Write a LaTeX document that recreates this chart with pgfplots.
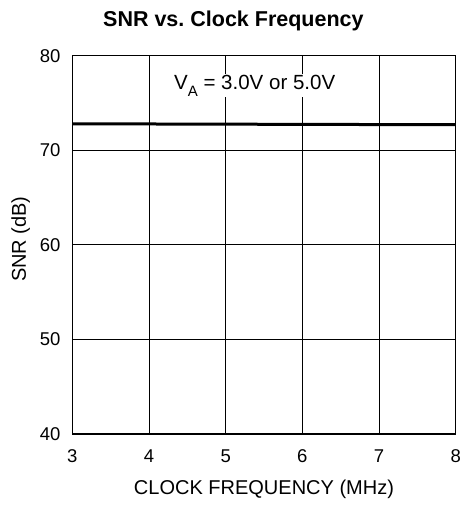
\documentclass[border=0pt]{standalone}
\usepackage{fontspec}
\setmainfont{Liberation Sans}
\usepackage{pgfplots}
\pgfplotsset{compat=1.18}
\frenchspacing
\begin{document}
\begin{tikzpicture}[x=1pt,y=1pt]
\path[use as bounding box] (-72.3,-74) rectangle (393.7,434);
\begin{axis}[
  at={(0,0)}, anchor=south west,
  scale only axis, width=383.4pt, height=378.3pt,
  xmin=3, xmax=8, ymin=40, ymax=80,
  xtick={3,4,5,6,7,8}, ytick={40,50,60,70,80},
  grid=major, major grid style={black, line width=0.9pt},
  axis line style={black, line width=1.1pt},
  tick style={draw=none},
  /pgf/number format/assume math mode=true,
  ticklabel style={font=\fontsize{18.5}{22}\selectfont, inner sep=0pt},
  xticklabel style={anchor=base, yshift=-28.3pt},
  yticklabel style={anchor=east, xshift=-11.6pt},
  xlabel={CLOCK FREQUENCY (MHz)},
  ylabel={SNR (dB)},
  label style={font=\fontsize{20}{24}\selectfont, inner sep=0pt},
  xlabel style={at={(axis description cs:0.5,0)}, anchor=base, yshift=-60pt},
  ylabel style={at={(axis description cs:0,0.515)}, anchor=base, yshift=46.3pt},
  clip=false,
]
\addplot[black, line width=3pt] coordinates {(3,72.78) (4,72.78) (5,72.76) (6,72.74) (7,72.72) (8,72.70)};
\node[font=\fontsize{20.5}{24}\selectfont, fill=white, inner sep=1pt, anchor=base] at (axis cs:5.379,76.45) {V\raisebox{-7pt}{\fontsize{15}{18}\selectfont A} = 3.0V or 5.0V};
\end{axis}
\node[font=\bfseries\fontsize{21.5}{26}\selectfont, anchor=base] at (161.1,407.3) {SNR vs. Clock Frequency};
\end{tikzpicture}
\end{document}
